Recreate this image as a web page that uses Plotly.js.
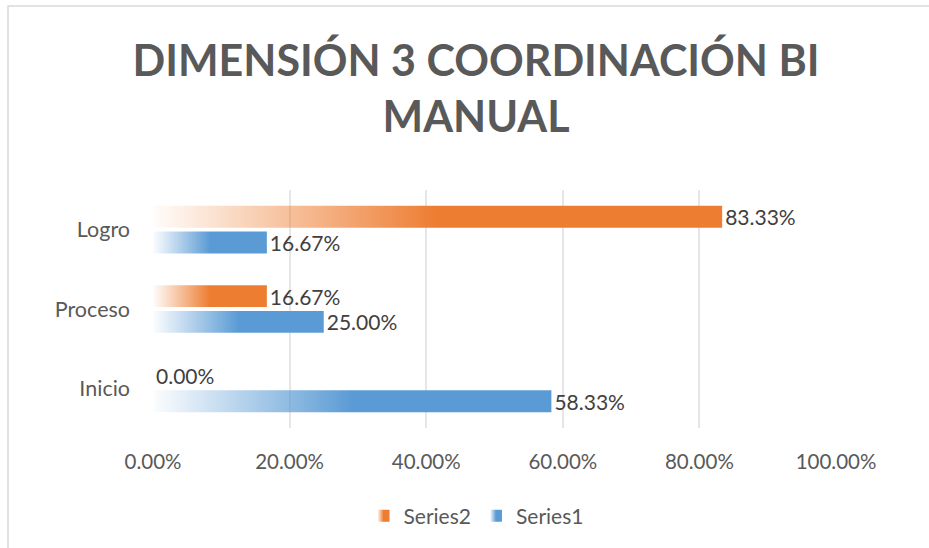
<!DOCTYPE html>
<html>
<head>
<meta charset="utf-8">
<script src="https://cdn.plot.ly/plotly-3.0.1.min.js"></script>
<style>
  html, body { margin: 0; padding: 0; background: #ffffff; }
  #chart { width: 929px; height: 548px; }
</style>
</head>
<body>
<div id="chart"></div>
<script>
// ---- data ----
const categories = ["Inicio", "Proceso", "Logro"];
const series1 = [0.5833, 0.25, 0.1667];
const series2 = [0.0, 0.1667, 0.8333];
const series1Labels = ["58.33%", "25.00%", "16.67%"];
const series2Labels = ["0.00%", "16.67%", "83.33%"];
const xTickVals = [0, 0.2, 0.4, 0.6, 0.8, 1.0];
const xTickText = ["0.00%", "20.00%", "40.00%", "60.00%", "80.00%", "100.00%"];

const FONT = "Lato, 'Open Sans', sans-serif";
const BLUE = "#5B9BD5";
const ORANGE = "#ED7D31";

const traces = [
  {
    type: "bar", orientation: "h", name: "Series1",
    y: categories, x: series1, text: series1Labels,
    textposition: "outside", cliponaxis: false, constraintext: "none",
    textfont: { family: FONT, size: 21, color: "#404040" },
    marker: { color: BLUE },
    hoverinfo: "skip"
  },
  {
    type: "bar", orientation: "h", name: "Series2",
    y: categories, x: series2, text: series2Labels,
    textposition: "outside", cliponaxis: false, constraintext: "none",
    textfont: { family: FONT, size: 21, color: "#404040" },
    marker: { color: ORANGE },
    hoverinfo: "skip"
  }
];

const layout = {
  width: 929, height: 548,
  margin: { l: 153, r: 93, t: 190, b: 120 },
  paper_bgcolor: "#ffffff", plot_bgcolor: "#ffffff",
  font: { family: FONT, color: "#595959", size: 20 },
  title: {
    text: "<b>DIMENSIÓN 3 COORDINACIÓN BI<br>MANUAL</b>",
    font: { family: FONT, size: 43, color: "#595959" },
    x: 476 / 929, xref: "container", xanchor: "center",
    y: 1 - 76 / 548, yref: "container", yanchor: "top"
  },
  barmode: "group", bargap: 0.35, bargroupgap: 0.15,
  xaxis: {
    range: [0, 1], tickvals: xTickVals, ticktext: xTickText,
    showgrid: true, gridcolor: "#E6E6E6", gridwidth: 2,
    zeroline: false, showline: false, ticks: "",
    ticklabelstandoff: 19,
    tickfont: { family: FONT, size: 20.5, color: "#595959" },
    fixedrange: true
  },
  yaxis: {
    type: "category", categoryorder: "array", categoryarray: categories,
    showgrid: false, zeroline: false, showline: false, ticks: "",
    ticklabelstandoff: 22,
    tickfont: { family: FONT, size: 21.5, color: "#595959" },
    fixedrange: true
  },
  showlegend: true,
  legend: {
    orientation: "h", traceorder: "reversed",
    x: 476 / 929, xref: "container", xanchor: "center",
    y: 1 - 516 / 548, yref: "container", yanchor: "middle",
    font: { family: FONT, size: 21, color: "#595959" },
    itemwidth: 30
  },
  shapes: [
    {
      type: "rect", xref: "paper", yref: "paper",
      x0: (8 - 153) / 683, x1: (940 - 153) / 683,
      y0: (428 - 560) / 238, y1: (428 - 6) / 238,
      line: { color: "#D9D9D9", width: 1.5 }, fillcolor: "rgba(0,0,0,0)",
      layer: "below"
    }
  ]
};

function addGradient(defs, id, color) {
  const ns = "http://www.w3.org/2000/svg";
  const g = document.createElementNS(ns, "linearGradient");
  g.setAttribute("id", id);
  g.setAttribute("x1", "0"); g.setAttribute("y1", "0");
  g.setAttribute("x2", "1"); g.setAttribute("y2", "0");
  const stops = [[0, 0.02], [0.12, 0.25], [0.3, 0.6], [0.5, 1], [1, 1]];
  stops.forEach(([o, a]) => {
    const s = document.createElementNS(ns, "stop");
    s.setAttribute("offset", o);
    s.setAttribute("stop-color", color);
    s.setAttribute("stop-opacity", a);
    g.appendChild(s);
  });
  defs.appendChild(g);
}

Plotly.newPlot("chart", traces, layout, { staticPlot: true, displayModeBar: false }).then(gd => {
  const defs = gd.querySelector(".main-svg defs");
  if (!defs) return;
  addGradient(defs, "gradBlue", BLUE);
  addGradient(defs, "gradOrange", ORANGE);
  const ids = ["gradBlue", "gradOrange"];
  gd.querySelectorAll(".barlayer .trace").forEach((t, i) => {
    t.querySelectorAll(".point path").forEach(p => { p.style.fill = "url(#" + ids[i] + ")"; });
  });
  gd.querySelectorAll(".legend .traces").forEach(tr => {
    const d = tr.__data__;
    const idx = d && d[0] && d[0].trace ? d[0].trace.index : null;
    if (idx === null) return;
    tr.querySelectorAll(".legendpoints path").forEach(p => { p.style.fill = "url(#" + ids[idx] + ")"; });
  });
});
</script>
</body>
</html>
